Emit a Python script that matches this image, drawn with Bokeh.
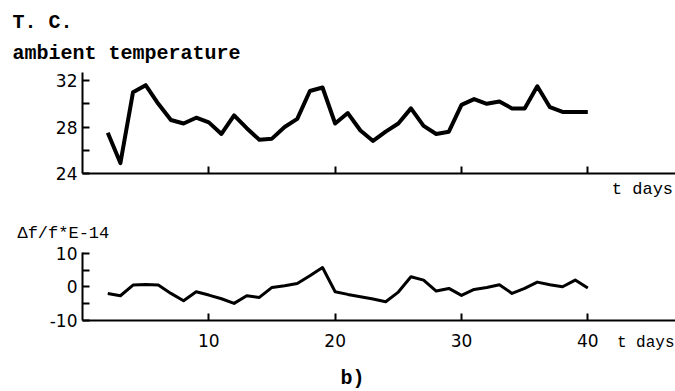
from bokeh.plotting import figure
from bokeh.layouts import column
from bokeh.models import Range1d, Label, FixedTicker
from bokeh.embed import file_html
from bokeh.resources import INLINE

# ---- data ----
days = list(range(2, 41))
temperature = [27.5, 24.9, 31.0, 31.6, 30.0, 28.6, 28.3, 28.8, 28.4, 27.4,
               29.0, 27.9, 26.9, 27.0, 28.0, 28.7, 31.1, 31.4, 28.3, 29.2,
               27.7, 26.8, 27.6, 28.3, 29.6, 28.1, 27.4, 27.6, 29.9, 30.4,
               30.0, 30.2, 29.6, 29.6, 31.5, 29.7, 29.3, 29.3, 29.3]
freq_dev = [-2.0, -2.7, 0.5, 0.7, 0.5, -2.0, -4.2, -1.5, -2.5, -3.6,
            -5.0, -2.7, -3.2, -0.2, 0.3, 1.0, 3.3, 5.8, -1.5, -2.3,
            -3.0, -3.7, -4.5, -1.6, 3.0, 2.0, -1.3, -0.5, -2.6, -0.8,
            -0.2, 0.6, -2.0, -0.5, 1.4, 0.6, 0.0, 2.0, -0.4]
x_ticks = [10, 20, 30, 40]
temp_ticks = [24, 26, 28, 30, 32]
temp_labels = {24: "24", 26: "", 28: "28", 30: "", 32: "32"}
freq_ticks = [-10, -5, 0, 5, 10]
freq_labels = {-10: "-10", -5: "", 0: "0", 5: "", 10: "10"}

MONO = "Liberation Mono"
SANS = "DejaVu Sans"
W = 675
X_RANGE = (-6.49, 46.94)


def style(p, yticks, ylabels, xlabels, ybounds, y0, lw):
    p.xgrid.visible = False
    p.ygrid.visible = False
    p.outline_line_color = None
    p.background_fill_color = "white"
    p.border_fill_color = "white"
    for ax in (p.xaxis[0], p.yaxis[0]):
        ax.axis_line_width = lw
        ax.axis_line_color = "black"
        ax.major_tick_line_width = lw
        ax.major_tick_line_color = "black"
        ax.major_tick_in = 7
        ax.major_tick_out = 0
        ax.minor_tick_line_color = None
        ax.major_label_text_font = SANS
        ax.major_label_text_font_size = "17px"
        ax.major_label_text_color = "black"
    p.yaxis[0].fixed_location = 0
    p.yaxis[0].bounds = ybounds
    p.yaxis[0].ticker = FixedTicker(ticks=yticks)
    p.yaxis[0].major_label_overrides = ylabels
    p.yaxis[0].major_label_standoff = 5
    p.xaxis[0].fixed_location = y0
    p.xaxis[0].bounds = (0, X_RANGE[1])
    p.xaxis[0].ticker = FixedTicker(ticks=x_ticks)
    if xlabels:
        p.xaxis[0].major_label_standoff = 14
    else:
        p.xaxis[0].major_label_overrides = {t: "" for t in x_ticks}


def fig(h, yr):
    return figure(width=W, height=h, output_backend="svg", toolbar_location=None,
                  x_range=Range1d(*X_RANGE), y_range=Range1d(*yr),
                  min_border_left=0, min_border_right=0, min_border_top=0,
                  min_border_bottom=0)


def lab(p, x, y, text, size, bold=False):
    p.add_layout(Label(x=x, y=y, text=text, text_font=MONO,
                       text_font_style="bold" if bold else "normal",
                       text_font_size=size, text_color="black",
                       text_baseline="middle", text_align="left"))


# ---- top: ambient temperature ----
p1 = fig(200, (21.68, 38.88))
style(p1, temp_ticks, temp_labels, False, (24, 32.7), 24, 2)
p1.line(days, temperature, line_width=4, line_color="black", line_join="round")
lab(p1, -5.54, 36.99, "T. C.", "20px", True)
lab(p1, -5.54, 34.32, "ambient temperature", "20px", True)
lab(p1, 41.9, 22.62, "t days", "17px")

# ---- bottom: frequency deviation ----
p2 = fig(191, (-31.5, 25.94))
style(p2, freq_ticks, freq_labels, True, (-10, 10.3), -10, 2)
p2.line(days, freq_dev, line_width=3, line_color="black", line_join="round")
lab(p2, -5.15, 16.02, "Δf/f*E-14", "17px")
lab(p2, 42.3, -16.77, "t days", "16px")
lab(p2, 20.42, -27.59, "b)", "20px", True)

layout = column(p1, p2, spacing=0)
open("out.html", "w").write(file_html(layout, INLINE))
